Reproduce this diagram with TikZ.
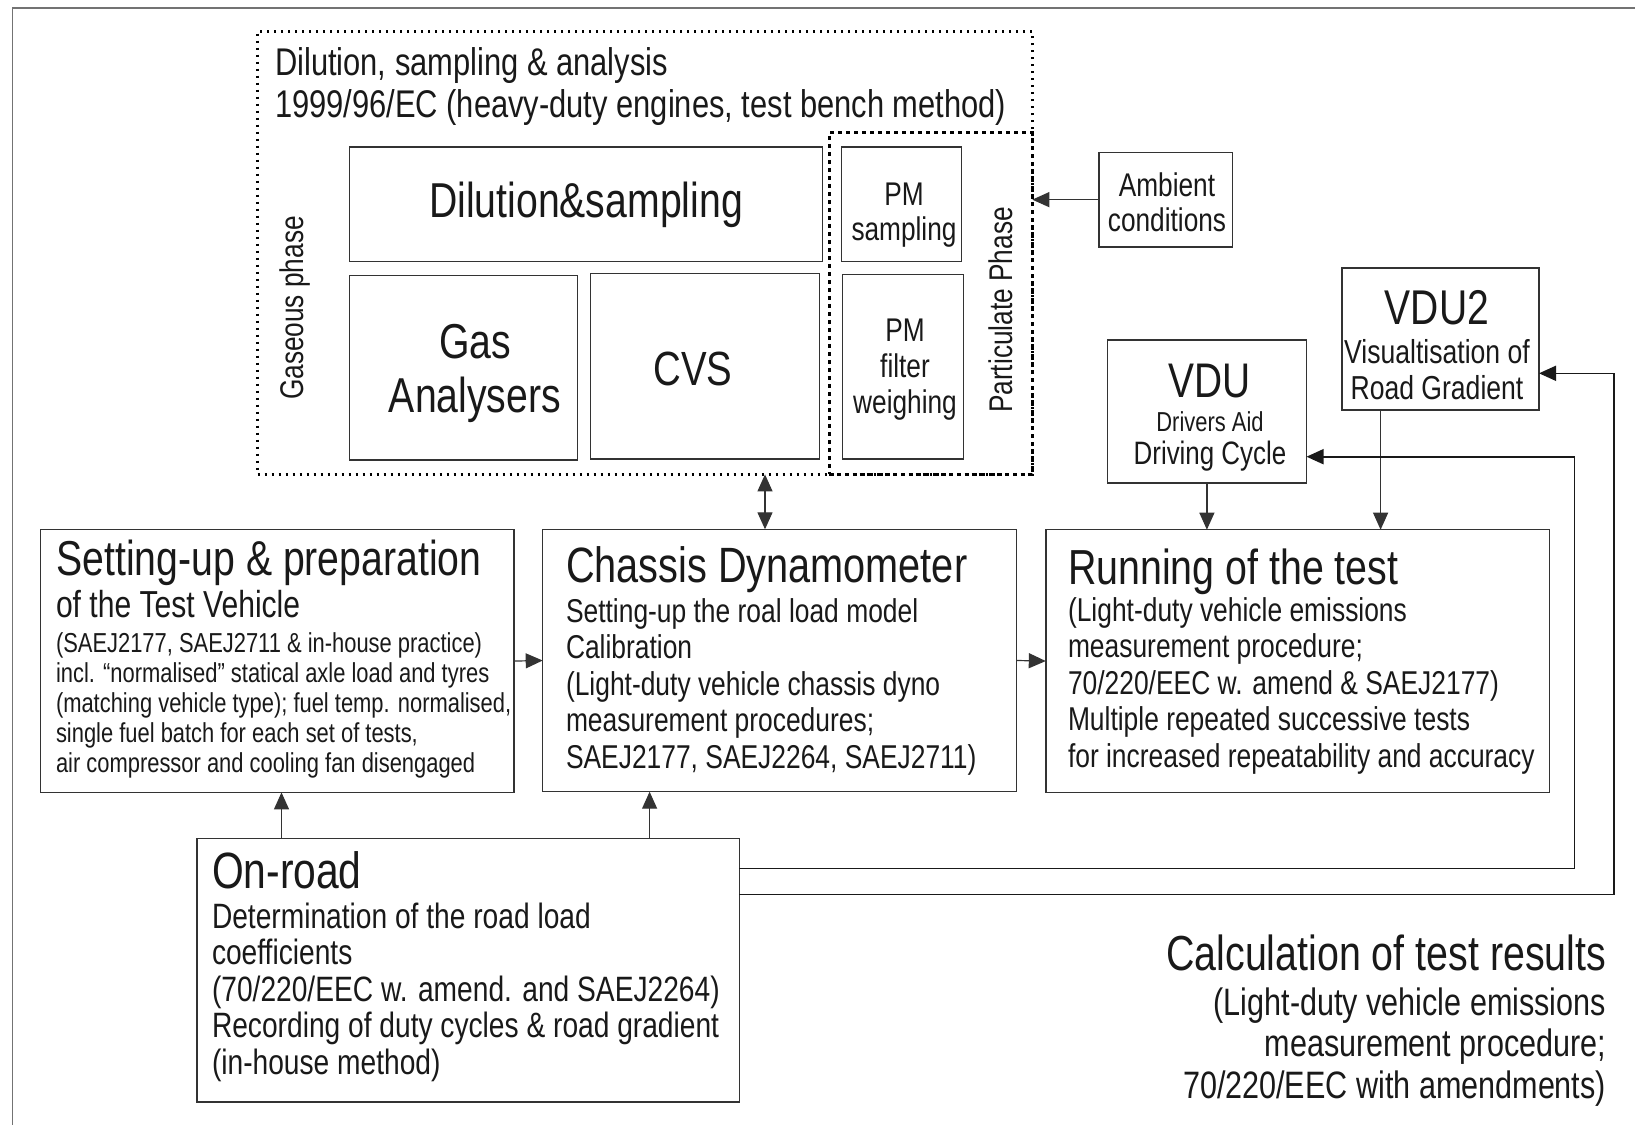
\documentclass[tikz,border=0pt]{standalone}
\usepackage{fontspec}
\setmainfont{Liberation Sans}[FakeStretch=0.8]
\usetikzlibrary{fit,arrows.meta}
\newcommand\myfs[2]{\fontsize{#1}{#2}\selectfont}
\begin{document}
\begin{tikzpicture}[x=0.5pt,y=-0.5pt,
  rbox/.style={draw=black!80, line width=0.7pt, inner sep=0pt, outer sep=0pt},
  txt/.style={inner sep=0pt, outer sep=0pt, text=black!90},
  tip/.style={},
  arr/.style={draw=black!80, line width=0.6pt, -{Triangle[length=8.5pt,width=7.5pt]}},
  darr/.style={draw=black!80, line width=0.6pt, {Triangle[length=8.5pt,width=7.5pt]}-{Triangle[length=8.5pt,width=7.5pt]}},
  farr/.style={draw=black!90, line width=0.8pt, -{Triangle[length=8.5pt,width=7.5pt]}},
  outerdot/.style={draw=black, line width=1.3pt, dash pattern=on 1.3pt off 2.2pt, inner sep=0pt, outer sep=0pt},
  partdot/.style={draw=black, line width=1.5pt, dash pattern=on 2pt off 2pt, inner sep=0pt, outer sep=0pt}]
\useasboundingbox (0,0) rectangle (1635,1125);
\fill[white] (0,0) rectangle (1635,1125);
% frame
\draw[black!55, line width=0.8pt] (12.5,1125) -- (12.5,8) -- (1635,8);

% dilution group
\node[outerdot, fit={(257.5,31.3) (1032.3,474.4)}] (outer) {};
\node[partdot, fit={(829,132.4) (1032.3,474.4)}] (part) {};
\node[txt, anchor=base west, align=left, font=\myfs{19.3}{21}] (dtitle) at (275,117)
  {Dilution, sampling \& analysis\\1999/96/EC (heavy-duty engines, test bench method)};
\node[rbox, fit={(349.3,147) (822.7,261.7)}] (dil) {};
\node[txt, font=\myfs{24.5}{28}] (diltxt) at (dil.center) {Dilution\&sampling};
\node[rbox, fit={(349.3,275.3) (577.7,459.8)}] (gas) {};
\node[txt, anchor=base, align=center, font=\myfs{24.5}{27}] (gastxt) at (475,412) {Gas\\Analysers};
\node[rbox, fit={(590.2,273.2) (819.6,458.8)}] (cvs) {};
\node[txt, anchor=base, font=\myfs{24}{27}] (cvstxt) at (693,385.8) {CVS};
\node[rbox, fit={(841.5,147) (961.4,261.7)}] (pms) {};
\node[txt, anchor=base, align=center, font=\myfs{16.4}{17.5}] (pmstxt) at (904,240) {PM\\sampling};
\node[rbox, fit={(842.5,274.2) (963.5,458.8)}] (pmf) {};
\node[txt, anchor=base, align=center, font=\myfs{16.4}{18}] (pmftxt) at (905,413) {PM\\filter\\weighing};
\node[txt, rotate=90, font=\myfs{16.4}{18}] (gasph) at (295,308) {Gaseous phase};
\node[txt, rotate=90, font=\myfs{16.4}{18}] (partph) at (1001,310) {Particulate Phase};

% ambient
\node[rbox, fit={(1099,152.2) (1232.5,247.1)}] (amb) {};
\node[txt, anchor=base, align=center, font=\myfs{16.4}{17.5}] (ambtxt) at (1167,231) {Ambient\\conditions};

% VDU2
\node[rbox, fit={(1342,268) (1539,409.8)}] (vdu2) {};
\node[txt, anchor=base, font=\myfs{24.4}{27}] (vdu2t) at (1437,324) {VDU2};
\node[txt, anchor=base, align=center, font=\myfs{16.6}{18}] (vdu2s) at (1437,399) {Visualtisation of\\Road Gradient};

% VDU
\node[rbox, fit={(1107.3,340) (1306.5,482.8)}] (vdu) {};
\node[txt, anchor=base, font=\myfs{24.3}{27}] (vdut) at (1210,397) {VDU};
\node[txt, anchor=base, font=\myfs{13.7}{15}] (vdua) at (1210,431) {Drivers Aid};
\node[txt, anchor=base, font=\myfs{16.2}{18}] (vduc) at (1210,464) {Driving Cycle};

% setting-up
\node[rbox, fit={(40.7,529.7) (514,792.4)}] (setup) {};
\node[txt, anchor=base west, font=\myfs{24.5}{27}] (setupt) at (56.5,575) {Setting-up \& preparation};
\node[txt, anchor=base west, font=\myfs{18.8}{21}] (setups) at (56,617) {of the Test Vehicle};
\node[txt, anchor=base west, align=left, font=\myfs{13.7}{15}] (setupl) at (56,772)
  {(SAEJ2177, SAEJ2711 \& in-house practice)\\
   incl. “normalised” statical axle load and tyres\\
   (matching vehicle type); fuel temp. normalised,\\
   single fuel batch for each set of tests,\\
   air compressor and cooling fan disengaged};

% chassis
\node[rbox, fit={(542.7,529.3) (1016.7,791.7)}] (chassis) {};
\node[txt, anchor=base west, font=\myfs{24.8}{27}] (chast) at (566,582) {Chassis Dynamometer};
\node[txt, anchor=base west, align=left, font=\myfs{16.5}{18.25}] (chasl) at (566,768)
  {Setting-up the roal load model\\Calibration\\(Light-duty vehicle chassis dyno\\measurement procedures;\\SAEJ2177, SAEJ2264, SAEJ2711)};

% running
\node[rbox, fit={(1045.8,529.7) (1549.5,792.4)}] (run) {};
\node[txt, anchor=base west, font=\myfs{24.6}{27}] (runt) at (1068,584) {Running of the test};
\node[txt, anchor=base west, align=left, font=\myfs{16.5}{18.25}] (runl) at (1068,767)
  {(Light-duty vehicle emissions\\measurement procedure;\\70/220/EEC w. amend \& SAEJ2177)\\Multiple repeated successive tests\\for increased repeatability and accuracy};

% on-road
\node[rbox, fit={(197,838.3) (739.3,1102.1)}] (onroad) {};
\node[txt, anchor=base west, font=\myfs{25.5}{28}] (onrt) at (212,888) {On-road};
\node[txt, anchor=base west, align=left, font=\myfs{17.6}{18.25}] (onrl) at (212,1074)
  {Determination of the road load\\coefficients\\(70/220/EEC w. amend. and SAEJ2264)\\Recording of duty cycles \& road gradient\\(in-house method)};

% calculation
\node[txt, anchor=base east, font=\myfs{24.6}{27}] (calct) at (1606,970) {Calculation of test results};
\node[txt, anchor=base east, align=right, font=\myfs{19.1}{20.75}] (calcl) at (1606,1098)
  {(Light-duty vehicle emissions\\measurement procedure;\\70/220/EEC with amendments)};

% connectors
\draw[arr] (amb.west) -- (amb.west -| outer.east);
\coordinate (dx) at (765,0);
\draw[darr] (outer.south -| dx) -- (chassis.north -| dx);
\draw[arr] (setup.east) -- (chassis.west);
\draw[arr] (chassis.east) -- (run.west);
\coordinate (c1) at (281.5,0);
\draw[arr] (onroad.north -| c1) -- (setup.south -| c1);
\coordinate (c2) at (649.6,0);
\draw[arr] (onroad.north -| c2) -- (chassis.south -| c2);
\draw[arr] (vdu.south) -- (run.north -| vdu.south);
\coordinate (c3) at (1380.6,0);
\draw[arr] (vdu2.south -| c3) -- (run.north -| c3);
\coordinate (r1) at (1574.5,868.6);
\coordinate (t1) at (1574.5,456.7);
\draw[farr] (onroad.east |- r1) -- (r1) -- (t1) -- (vdu.east |- t1);
\coordinate (r2) at (1614,894.6);
\coordinate (t2) at (1614,373.3);
\draw[farr] (onroad.east |- r2) -- (r2) -- (t2) -- (vdu2.east |- t2);
\end{tikzpicture}
\end{document}
